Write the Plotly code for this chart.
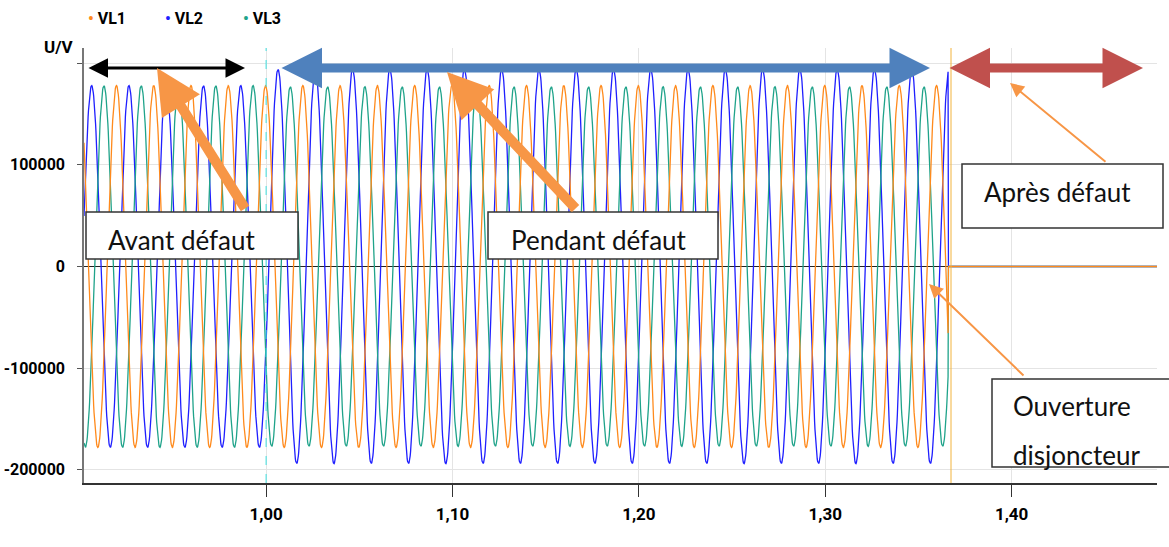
import numpy as np
import plotly.graph_objects as go

# --- waveform parameters ----------------------------------------------------
PHASES = ["VL1", "VL2", "VL3"]
COLORS = {"VL1": "#ff8a1c", "VL2": "#1f1fff", "VL3": "#1fa38a"}
FREQ_HZ = 50.0
PEAK_TIME = {"VL1": 0.9197, "VL2": 0.9064, "VL3": 0.9130}   # time of one crest (s)
T_START, T_FAULT, T_OPEN, T_END = 0.9023, 1.000, 1.366, 1.478
AMP_BEFORE = {"VL1": 178000, "VL2": 178000, "VL3": 178000}  # V, before fault
AMP_FAULT = {"VL1": 178000, "VL2": 194000, "VL3": 177000}   # V, during fault
SAMPLE_DT = 0.0002

X_TICKS = [1.00, 1.10, 1.20, 1.30, 1.40]
X_TICK_TEXT = ["1,00", "1,10", "1,20", "1,30", "1,40"]
Y_TICKS = [200000, 100000, 0, -100000, -200000]
Y_TICK_TEXT = ["", "100000", "0", "-100000", "-200000"]
Y_RANGE = [-213000, 215000]

NARROW = "Liberation Sans Narrow, Arial Narrow, Roboto, sans-serif"
BOXFONT = "Lato, Open Sans, sans-serif"

# plot area in page pixels
L, R, TOP, BOT = 84, 1157, 48, 483


def px_x(px):
    return T_START + (px - L) / (R - L) * (T_END - T_START)


def px_y(py):
    return Y_RANGE[1] - (py - TOP) / (BOT - TOP) * (Y_RANGE[1] - Y_RANGE[0])


def paper_x(px):
    return (px - L) / (R - L)


def paper_y(py):
    return (BOT - py) / (BOT - TOP)


def phase_wave(name, t):
    amp = np.where(t < T_FAULT, AMP_BEFORE[name], AMP_FAULT[name])
    v = amp * np.cos(2 * np.pi * FREQ_HZ * (t - PEAK_TIME[name]))
    return np.where(t < T_OPEN, v, 0.0)


t = np.arange(T_START, T_END + SAMPLE_DT, SAMPLE_DT)

fig = go.Figure()
# VL1 drawn last so its zero line after breaker opening is the visible one
for name in ("VL2", "VL3", "VL1"):
    fig.add_trace(go.Scatter(x=t, y=phase_wave(name, t), mode="lines", name=name,
                             showlegend=False, line=dict(color=COLORS[name], width=1.3),
                             hoverinfo="skip"))

# fault instant / breaker opening markers
fig.add_vline(x=T_FAULT, line=dict(color="#3fe0e0", width=1, dash="dash"))
fig.add_vline(x=px_x(951), line=dict(color="#f2b33d", width=1))


def dbl_arrow(x0, x1, y, color, width, size):
    fig.add_annotation(x=px_x(x1), y=px_y(y), ax=px_x(x0), ay=px_y(y), xref="x", yref="y",
                       axref="x", ayref="y", text="", showarrow=True, arrowhead=2,
                       arrowside="end+start", arrowwidth=width, arrowsize=size,
                       arrowcolor=color)


def arrow(hx, hy, tx, ty, color, width, size):
    fig.add_annotation(x=px_x(hx), y=px_y(hy), ax=px_x(tx), ay=px_y(ty), xref="x", yref="y",
                       axref="x", ayref="y", text="", showarrow=True, arrowhead=2,
                       arrowwidth=width, arrowsize=size, arrowcolor=color)


def label_box(x0, x1, y0, y1, text, tx, ty):
    fig.add_shape(type="rect", x0=paper_x(x0), x1=paper_x(x1), y0=paper_y(y0),
                  y1=paper_y(y1), xref="paper", yref="paper",
                  line=dict(color="#333333", width=1.5), fillcolor="white", layer="above")
    fig.add_annotation(x=paper_x(tx), y=paper_y(ty), xref="paper", yref="paper", text=text,
                       showarrow=False, xanchor="left", yanchor="middle", align="left",
                       font=dict(family=BOXFONT, size=26, color="#111111"))


dbl_arrow(87, 245, 68, "#000000", 3, 1.3)
dbl_arrow(280, 930, 68, "#4f81bd", 9, 0.9)
dbl_arrow(948, 1143, 68, "#c0504d", 9, 0.9)

label_box(86, 298, 212, 259, "Avant défaut", 106, 240)
label_box(488, 718, 212, 259, "Pendant défaut", 509, 240)
label_box(962, 1163, 164, 228, "Après défaut", 982, 192)
label_box(992, 1180, 379, 467, "Ouverture", 1011, 406)
fig.add_annotation(x=paper_x(1011), y=paper_y(455), xref="paper", yref="paper",
                   text="disjoncteur", showarrow=False, xanchor="left", yanchor="middle",
                   font=dict(family=BOXFONT, size=26, color="#111111"))

arrow(157, 68, 246, 210, "#f79646", 10, 0.9)
arrow(447, 72, 577, 210, "#f79646", 10, 0.9)
arrow(1010, 83, 1107, 163, "#f79646", 2, 1.4)
arrow(929, 284, 1025, 377, "#f79646", 2, 1.4)

# axis unit and legend entries
fig.add_annotation(x=paper_x(76), y=paper_y(47), xref="paper", yref="paper", text="U/V",
                   showarrow=False, xanchor="right", yanchor="middle",
                   font=dict(family=NARROW, size=17, color="black", weight="bold"))
for name, px in zip(PHASES, (86, 163, 241)):
    fig.add_annotation(x=paper_x(px), y=paper_y(18), xref="paper", yref="paper",
                       text=f"<span style='color:{COLORS[name]}'>•</span> {name}",
                       showarrow=False, xanchor="left", yanchor="middle",
                       font=dict(family=NARROW, size=16, color="black", weight="bold"))

fig.update_layout(
    width=1169, height=547,
    margin=dict(l=L, r=1169 - R, t=TOP, b=547 - BOT, autoexpand=False),
    paper_bgcolor="white", plot_bgcolor="white",
    showlegend=False,
    xaxis=dict(range=[T_START, T_END], tickvals=X_TICKS, ticktext=X_TICK_TEXT,
               automargin=False, showgrid=True, gridcolor="#e4e4e4", gridwidth=1,
               showline=True, linecolor="#333333", linewidth=1.5,
               ticks="outside", ticklen=12, tickcolor="#333333", zeroline=False,
               ticklabelstandoff=3,
               tickfont=dict(family=NARROW, size=17, color="black", weight="bold")),
    yaxis=dict(range=Y_RANGE, tickvals=Y_TICKS, ticktext=Y_TICK_TEXT,
               automargin=False, showgrid=True, gridcolor="#e4e4e4", gridwidth=1,
               showline=True, linecolor="#777777", linewidth=1.5,
               ticks="outside", ticklen=5, tickcolor="#555555",
               zeroline=True, zerolinecolor="#222222", zerolinewidth=1,
               ticklabelstandoff=9,
               tickfont=dict(family=NARROW, size=16, color="black", weight="bold")),
)

# the page's default body margin would shift the figure by 8 px
fig.write_html("out.html", config={"displayModeBar": False},
               post_script="document.body.style.margin='0';")
